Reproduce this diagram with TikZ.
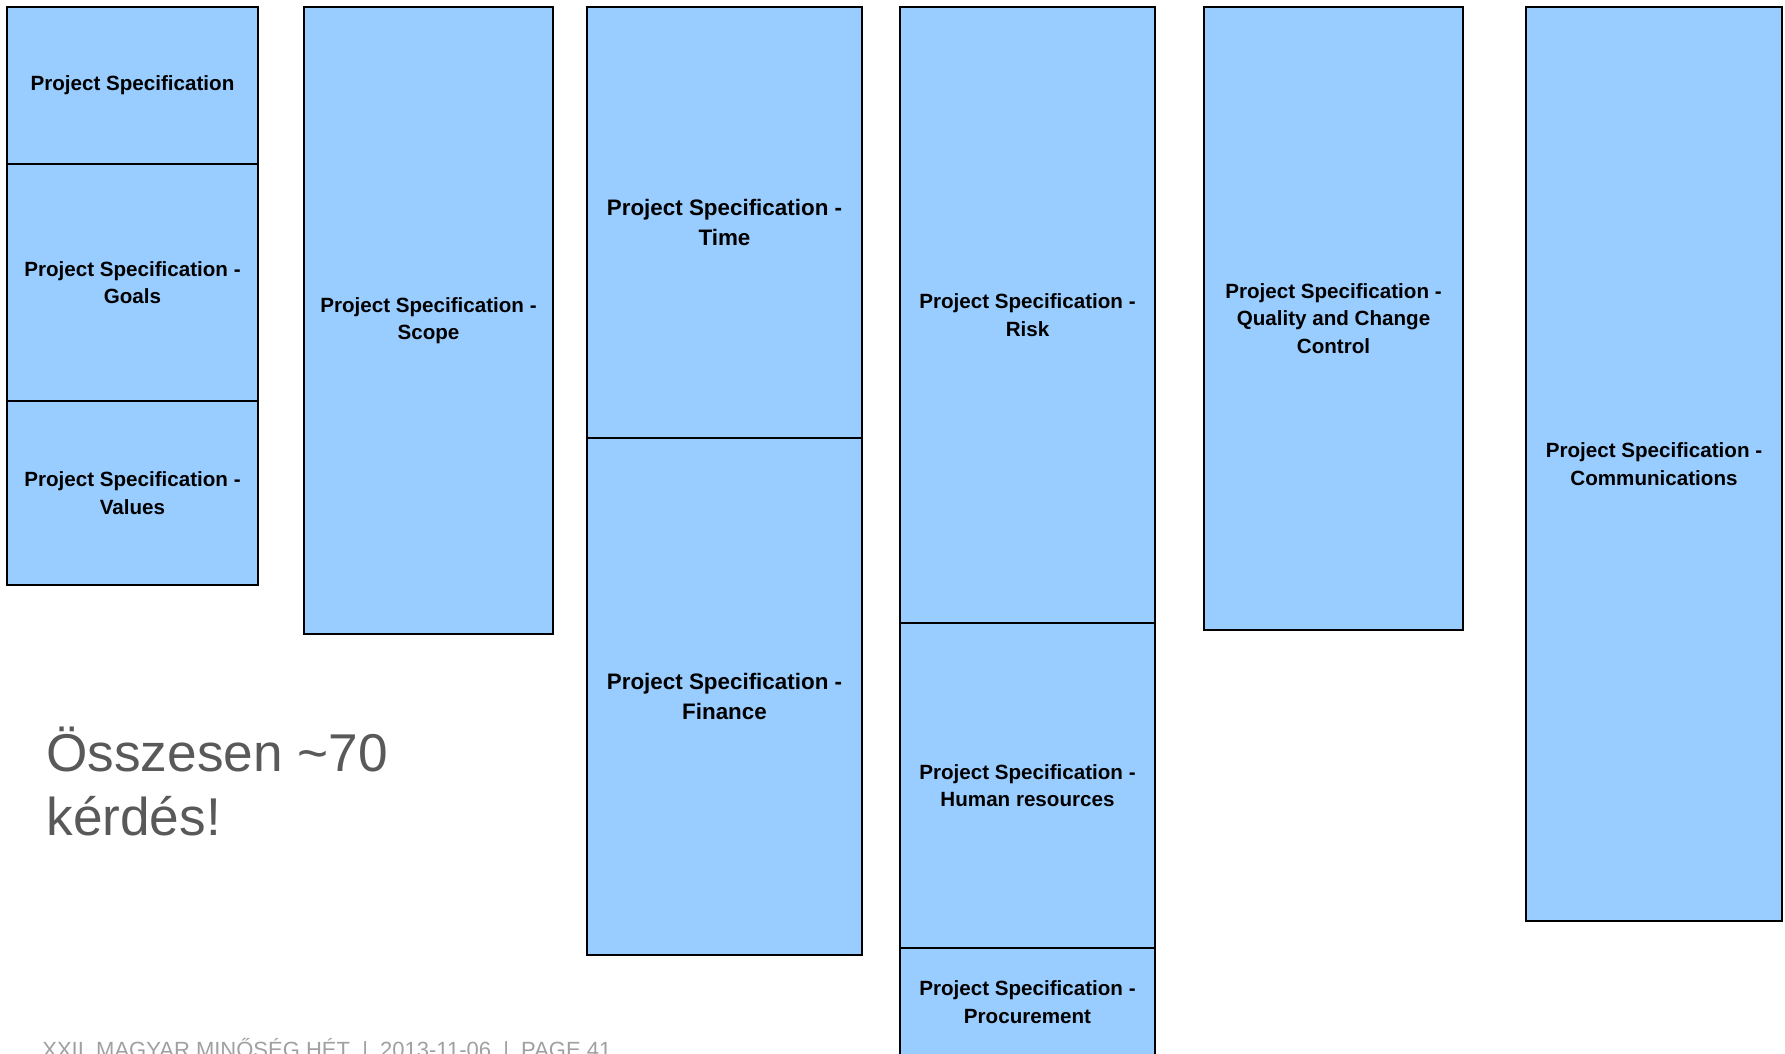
\documentclass[tikz,border=0pt]{standalone}
\usepackage{fontspec}
\setmainfont{Liberation Sans}
\usepackage{xcolor}
\definecolor{cellblue}{HTML}{99CCFF}
\definecolor{bigtext}{HTML}{595959}
\definecolor{foot}{HTML}{A0A0A0}

\begin{document}
\begin{tikzpicture}[x=0.5pt,y=-0.5pt]
    % styles
    \tikzset{cell/.style 2 args={draw=black,line width=1.2pt,fill=cellblue,inner sep=0pt,align=center,
        minimum width=#1*0.5pt,minimum height=#2*0.5pt,
        font=\fontsize{10.3pt}{13.7pt}\selectfont\bfseries},
        bigcell/.style 2 args={cell={#1}{#2},font=\fontsize{11.2pt}{14.8pt}\selectfont\bfseries}}
    \useasboundingbox (0,0) rectangle (1785,1054);

    % column 1
    \node[cell={251}{157}] (spec)   at (132.5,85.5)  {Project Specification};
    \node[cell={251}{237}] (goals)  at (132.5,282.5) {Project Specification -\\Goals};
    \node[cell={251}{184}] (values) at (132.5,493)   {Project Specification -\\Values};

    % column 2
    \node[cell={249}{627}] (scope)  at (428.5,320.5) {Project Specification -\\Scope};

    % column 3
    \node[bigcell={275}{431}] (time)    at (724.5,222.5) {Project Specification -\\Time};
    \node[bigcell={275}{517}] (finance) at (724.5,696.5) {Project Specification -\\Finance};

    % column 4
    \node[cell={255}{616}] (risk)    at (1027.5,315)   {Project Specification -\\Risk};
    \node[cell={255}{325}] (human)   at (1027.5,785.5) {Project Specification -\\Human resources};
    \node[cell={255}{108}] (procure) at (1027.5,1002)  {Project Specification -\\Procurement};

    % column 5
    \node[cell={259}{623}] (quality) at (1333.5,318.5) {Project Specification -\\Quality and Change\\Control};

    % column 6
    \node[cell={256}{914}] (comm)    at (1654,464)     {Project Specification -\\Communications};

    % summary text
    \node[anchor=base west,align=left,text=bigtext,inner sep=0pt,
        font=\fontsize{26.6pt}{32pt}\selectfont] (total) at (46,835) {Összesen \textasciitilde70\\kérdés!};

    % footer
    \node[anchor=base west,inner sep=0pt,text=foot,font=\fontsize{11pt}{13pt}\selectfont] (footer) at (42,1057)
        {XXII. MAGYAR MINŐSÉG HÉT \;|\; 2013-11-06 \;|\; PAGE 41};
\end{tikzpicture}
\end{document}
